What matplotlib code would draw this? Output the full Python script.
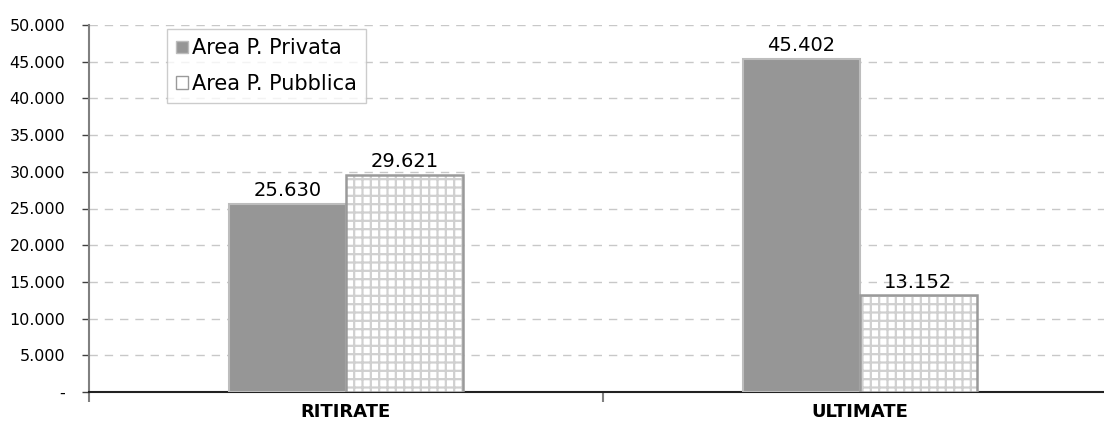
import matplotlib
matplotlib.use("Agg")
import matplotlib.pyplot as plt
from matplotlib.patches import Patch
import numpy as np

categories = ["RITIRATE", "ULTIMATE"]
series_names = ["Area P. Privata", "Area P. Pubblica"]
privata = [25630, 45402]
pubblica = [29621, 13152]
yticks = [0, 5000, 10000, 15000, 20000, 25000, 30000, 35000, 40000, 45000, 50000]

def fmt(v):
    if v == 0:
        return "-"
    return f"{v:,.0f}".replace(",", ".")

plt.rcParams['hatch.color'] = '#d0d0d0'
plt.rcParams['hatch.linewidth'] = 1.6

W, H = 1104, 437
fig = plt.figure(figsize=(W/100, H/100), dpi=100)
left, right, top, bottom = 89, 1117, 25, 392
ax = fig.add_axes([left/W, (H-bottom)/H, (right-left)/W, (bottom-top)/H])

x = np.arange(len(categories))
bw = 0.2276

ax.bar(x - bw/2, privata, bw, color='#969696', edgecolor='#bdbdbd', linewidth=1.5, zorder=3)
ax.bar(x + bw/2, pubblica, bw, color='white', edgecolor='#d0d0d0', hatch='++', linewidth=0, zorder=3)
ax.bar(x + bw/2, pubblica, bw, color='none', edgecolor='#9a9a9a', linewidth=1.8, zorder=4)

for xi, v in zip(x - bw/2, privata):
    ax.text(xi, v + 500, fmt(v), ha='center', va='bottom', fontsize=14, zorder=5)
for xi, v in zip(x + bw/2, pubblica):
    ax.text(xi, v + 500, fmt(v), ha='center', va='bottom', fontsize=14, zorder=5)

ax.set_xlim(-0.5, 1.5)
ax.set_ylim(0, 50000)
ax.set_yticks(yticks)
ax.set_yticklabels([fmt(v) for v in yticks], fontsize=11.5)
ax.yaxis.grid(True, linestyle=(0, (6, 5)), color='#c8c8c8', linewidth=1, zorder=0)
ax.set_axisbelow(True)

ax.set_xticks(x)
ax.set_xticklabels(categories, fontsize=13, fontweight='bold')
ax.tick_params(axis='x', which='major', length=0, pad=8)
ax.set_xticks([-0.5, 0.5, 1.5], minor=True)
ax.tick_params(axis='x', which='minor', length=7, width=1.5, color='#808080', direction='out')
ax.tick_params(axis='y', length=5, width=1, color='#404040', direction='out', pad=12)

for s in ['top', 'right']:
    ax.spines[s].set_visible(False)
ax.spines['left'].set_color('#808080')
ax.spines['left'].set_linewidth(1.5)
ax.spines['bottom'].set_color('#222222')
ax.spines['bottom'].set_linewidth(1.5)

handles = [Patch(facecolor='#969696', edgecolor='#bdbdbd', linewidth=1),
           Patch(facecolor='white', edgecolor='#9a9a9a', hatch='+', linewidth=1)]
leg = ax.legend(handles, series_names, loc='upper left',
                bbox_to_anchor=((167-left)/(right-left), (bottom-29)/(bottom-top)),
                frameon=True, fancybox=False, fontsize=15, handlelength=0.55, handleheight=0.55,
                handletextpad=0.2, borderpad=0.45, labelspacing=0.75, borderaxespad=0)
leg.get_frame().set_edgecolor('#c0c0c0')
leg.get_frame().set_linewidth(1)

fig.savefig("out.png", dpi=100)
